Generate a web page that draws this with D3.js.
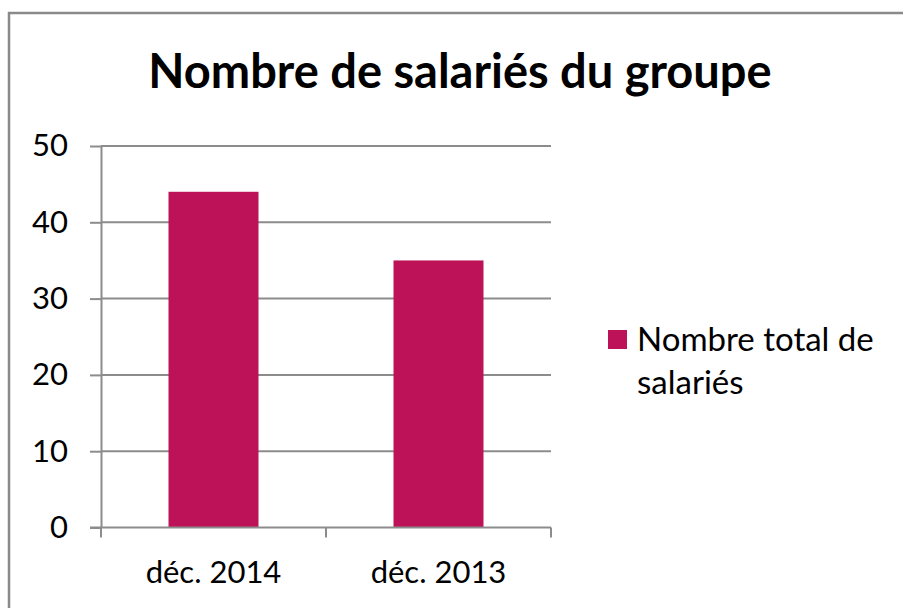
<!DOCTYPE html>
<html>
<head>
<meta charset="utf-8">
<script src="https://cdn.jsdelivr.net/npm/d3@7"></script>
<style>
  html, body { margin: 0; padding: 0; background: #fff; }
  svg { display: block; font-family: Lato, "Open Sans", sans-serif; }
</style>
</head>
<body>
<svg id="chart" width="903" height="608"></svg>
<script>
// Effectifs du groupe
const categories = ["déc. 2014", "déc. 2013"];
const values = [44, 35];
const yTicks = [0, 10, 20, 30, 40, 50];
const seriesName = ["Nombre total de", "salariés"];
const title = "Nombre de salariés du groupe";

const svg = d3.select("#chart");
const barColor = "#bd1257";
const axisColor = "#8c8c8c";

// Outer frame
svg.append("rect")
  .attr("x", 9).attr("y", 13)
  .attr("width", 910).attr("height", 620)
  .attr("fill", "#fff")
  .attr("stroke", "#8a8a8a").attr("stroke-width", 2.5);

const plot = { left: 101, right: 551, top: 146, bottom: 527.5 };

const x = d3.scaleBand()
  .domain(categories)
  .range([plot.left, plot.right])
  .paddingInner(0.6).paddingOuter(0.3);

const y = d3.scaleLinear()
  .domain([0, 50])
  .range([plot.bottom, plot.top]);

// Gridlines
svg.append("g")
  .selectAll("line")
  .data(yTicks.filter(d => d > 0))
  .join("line")
  .attr("x1", plot.left).attr("x2", plot.right)
  .attr("y1", d => y(d)).attr("y2", d => y(d))
  .attr("stroke", axisColor).attr("stroke-width", 2);

// Bars
svg.append("g")
  .selectAll("rect")
  .data(values)
  .join("rect")
  .attr("x", (d, i) => x(categories[i]))
  .attr("y", d => y(d))
  .attr("width", x.bandwidth())
  .attr("height", d => y(0) - y(d))
  .attr("fill", barColor);

// Y axis
const yAxis = svg.append("g")
  .attr("transform", `translate(${plot.left},0)`)
  .call(d3.axisLeft(y).tickValues(yTicks).tickSize(11).tickPadding(22).tickSizeOuter(0));
yAxis.select(".domain").attr("stroke", axisColor).attr("stroke-width", 2);
yAxis.selectAll(".tick line").attr("stroke", axisColor).attr("stroke-width", 2);
yAxis.selectAll(".tick text")
  .attr("font-size", 31).attr("fill", "#000")
  .attr("font-family", "Lato, sans-serif");

// X axis: ticks at category boundaries
const bounds = [plot.left, plot.left + (plot.right - plot.left) / 2, plot.right];
const xAxis = svg.append("g");
xAxis.append("line")
  .attr("x1", plot.left - 11).attr("x2", plot.right)
  .attr("y1", y(0)).attr("y2", y(0))
  .attr("stroke", axisColor).attr("stroke-width", 2);
xAxis.selectAll("line.tk")
  .data(bounds)
  .join("line").attr("class", "tk")
  .attr("x1", d => d).attr("x2", d => d)
  .attr("y1", y(0)).attr("y2", y(0) + 10)
  .attr("stroke", axisColor).attr("stroke-width", 2);
xAxis.selectAll("text")
  .data(categories)
  .join("text")
  .attr("x", d => x(d) + x.bandwidth() / 2)
  .attr("y", 583)
  .attr("text-anchor", "middle")
  .attr("font-size", 31)
  .text(d => d);

// Title
svg.append("text")
  .attr("x", 460).attr("y", 88)
  .attr("text-anchor", "middle")
  .attr("font-size", 47).attr("font-weight", "bold")
  .text(title);

// Legend
const legend = svg.append("g");
legend.append("rect")
  .attr("x", 608).attr("y", 330)
  .attr("width", 19).attr("height", 19)
  .attr("fill", barColor);
legend.selectAll("text")
  .data(seriesName)
  .join("text")
  .attr("x", 637)
  .attr("y", (d, i) => 351 + i * 43)
  .attr("font-size", 33)
  .text(d => d);
</script>
</body>
</html>
